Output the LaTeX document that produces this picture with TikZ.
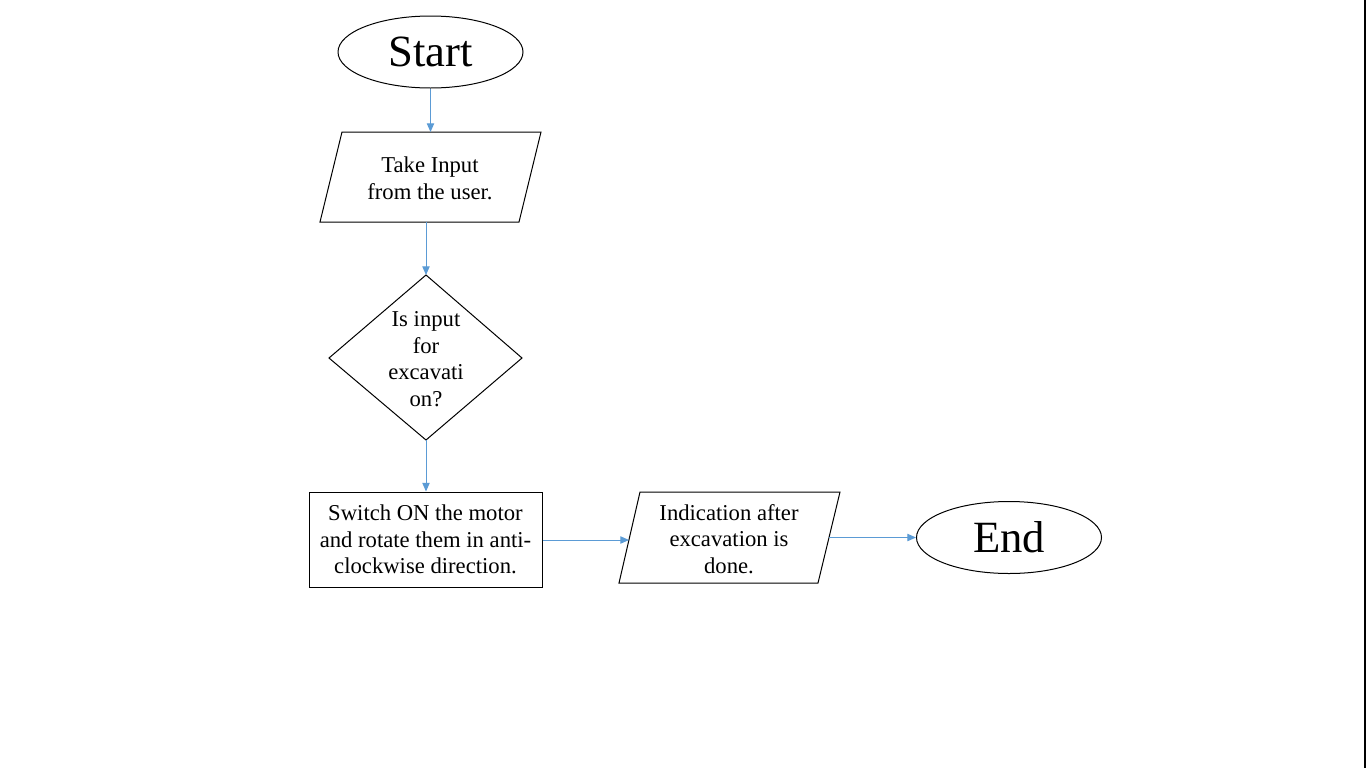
\documentclass[tikz,border=0pt]{standalone}
\usepackage{fontspec}
\setmainfont{Liberation Serif}
\usetikzlibrary{shapes.geometric,arrows.meta}
\definecolor{connblue}{HTML}{5B9BD5}
\begin{document}
\begin{tikzpicture}[x=0.75pt,y=-0.75pt,
  outline/.style={draw=black,line width=0.75pt},
  txt/.style={font=\fontsize{17}{20}\selectfont,align=center,inner sep=0pt},
  term/.style={ellipse,draw=black,line width=0.75pt,minimum width=138.75pt,minimum height=54pt,inner sep=0pt,font=\fontsize{33.5}{40}\selectfont},
  box/.style={rectangle,draw=black,line width=0.75pt,minimum width=174.75pt,minimum height=71.25pt,inner sep=0pt,align=center,font=\fontsize{17}{20}\selectfont},
  conn/.style={draw=connblue,line width=0.75pt,-{Triangle[length=6.5pt,width=5.5pt]}}]
\useasboundingbox (0,0) rectangle (1366,768);
\fill[white] (0,0) rectangle (1366,768);
\fill[black] (1364,0) rectangle (1366,768);

% Start
\node[term] (start) at (430.5,52) {Start};

% Input parallelogram
\draw[outline] (342,132) -- (541,132) -- (519,222) -- (320,222) -- cycle;
\node[txt] (take) at (430,178) {Take Input\\from the user.};
\coordinate (takeN) at (430.5,132);
\coordinate (takeS) at (426,222);

% Decision diamond
\draw[outline] (426,275) -- (522,358) -- (426,440) -- (329,358) -- cycle;
\node[txt] (dec) at (426,359) {Is input\\for\\excavati\\on?};
\coordinate (decN) at (426,275);
\coordinate (decS) at (426,440);

% Process box
\node[box] (sw) at (425.5,539.5) {Switch ON the motor\\and rotate them in anti-\\clockwise direction.};

% Output parallelogram
\draw[outline] (640,492) -- (840,492) -- (818,583) -- (619,583) -- cycle;
\node[txt] (ind) at (729,539) {Indication after\\excavation is\\done.};
\coordinate (indW) at (629,540);
\coordinate (indE) at (829,537.5);

% End
\node[term] (end) at (1009,537.5) {End};

% Connectors
\draw[conn] (start.south) -- (takeN);
\draw[conn] (takeS) -- (decN);
\draw[conn] (decS) -- (decS |- sw.north);
\draw[conn] (sw.east |- indW) -- (indW);
\draw[conn] (indE) -- (end.west);
\end{tikzpicture}
\end{document}
